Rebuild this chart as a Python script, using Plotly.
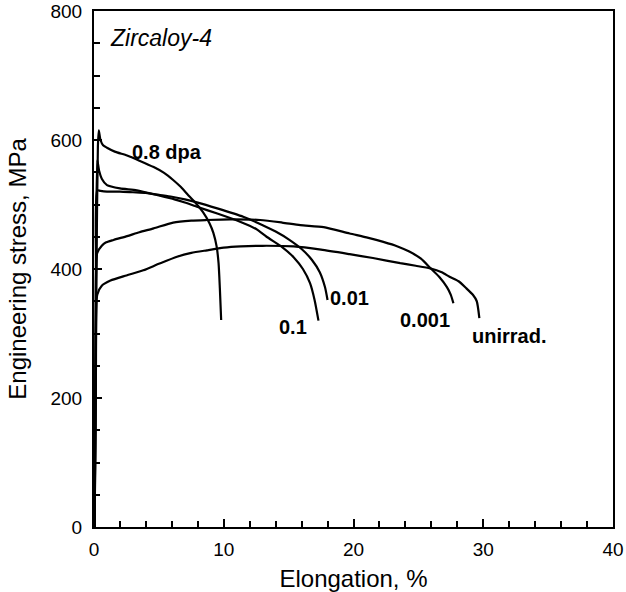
import plotly.graph_objects as go

# Elongation (%) and engineering stress (MPa)
x_08 = [0.05, 0.2, 0.3, 0.37, 0.5, 0.7, 1.0, 1.6, 2.55, 3.5, 4.6, 5.4, 6.1, 6.7, 7.2, 7.8, 8.4, 8.9, 9.2, 9.45, 9.6, 9.7, 9.8]
y_08 = [0, 420, 590, 615, 600, 592, 588, 582, 576, 568, 558, 549, 538, 527, 516, 503, 488, 471, 456, 435, 409, 370, 321]

x_01 = [0.05, 0.15, 0.25, 0.4, 0.6, 1.0, 2.0, 3.3, 5.0, 6.2, 7.0, 8.0, 9.5, 11.3, 12.5, 13.3, 14.5, 15.4, 16.1, 16.65, 17.0, 17.3]
y_01 = [0, 380, 569, 552, 540, 530, 525, 522, 514, 508, 503, 496, 486, 473, 462, 450, 434, 418, 400, 378, 352, 320]

x_001 = [0.05, 0.15, 0.25, 0.5, 1.0, 2.0, 3.0, 4.0, 5.0, 6.0, 7.0, 8.0, 9.5, 11.5, 13.0, 14.0, 15.0, 16.0, 16.8, 17.4, 17.8, 18.0]
y_001 = [0, 400, 522, 521, 520, 520, 519, 518, 515, 512, 508, 503, 494, 481, 468, 458, 446, 431, 414, 395, 372, 352]

x_0001 = [0.05, 0.15, 0.25, 0.6, 0.9, 1.5, 2.55, 3.5, 4.6, 6.1, 7.5, 8.7, 10.5, 12.8, 14.5, 15.9, 17.7, 19.7, 21.0, 22.3, 23.4, 24.3, 25.2, 25.9, 26.6, 27.2, 27.5, 27.7]
y_0001 = [0, 330, 425, 436, 441, 445, 451, 457, 463, 472, 475, 476, 477, 476, 472, 468, 465, 455, 449, 442, 435, 427, 416, 402, 388, 372, 360, 347]

x_un = [0.05, 0.15, 0.25, 0.6, 1.27, 2.5, 3.8, 5.0, 6.4, 7.5, 8.7, 10.0, 11.3, 13.0, 15.4, 17.5, 19.7, 21.5, 23.6, 24.8, 25.9, 26.8, 27.4, 28.1, 28.7, 29.2, 29.5, 29.7]
y_un = [0, 250, 360, 374, 382, 390, 398, 408, 419, 425, 429, 433, 435, 436, 435, 430, 423, 417, 409, 405, 401, 395, 388, 381, 370, 360, 350, 324]

series_x = [x_08, x_01, x_001, x_0001, x_un]
series_y = [y_08, y_01, y_001, y_0001, y_un]

label_text = ["0.8 dpa", "0.1", "0.01", "0.001", "unirrad."]
label_x = [5.6, 15.3, 19.7, 25.5, 32.0]
label_y = [581, 310, 355, 321, 296]

x_ticks = [0, 10, 20, 30, 40]
y_ticks = [0, 200, 400, 600, 800]

font_family = "Liberation Sans, Arial, sans-serif"

fig = go.Figure()
for xs, ys in zip(series_x, series_y):
    fig.add_trace(go.Scatter(x=xs, y=ys, mode="lines",
                             line=dict(color="black", width=2.2, shape="spline", smoothing=0.6),
                             showlegend=False, hoverinfo="skip"))

for t, lx, ly in zip(label_text, label_x, label_y):
    fig.add_annotation(x=lx, y=ly, text="<b>" + t + "</b>", showarrow=False,
                       font=dict(family=font_family, size=20, color="black"))

fig.add_annotation(x=1.1, y=758, text="<i>Zircaloy-4</i>", showarrow=False, xanchor="left",
                   font=dict(family=font_family, size=23, color="black"))

fig.update_layout(
    width=626, height=592,
    margin=dict(l=94, r=13, t=11, b=65),
    paper_bgcolor="white", plot_bgcolor="white",
    font=dict(family=font_family, color="black", size=19),
    showlegend=False,
)
fig.update_xaxes(range=[0, 40], tickvals=x_ticks, ticks="inside", ticklen=8, tickwidth=1.5,
                 tickcolor="black", showline=True, linecolor="black", linewidth=2, mirror=True,
                 showgrid=False, zeroline=False, automargin=False, ticklabelstandoff=4,
                 ticklabeloverflow="allow",
                 minor=dict(dtick=2, ticks="inside", ticklen=6, tickwidth=1.5, tickcolor="black", showgrid=False),
                 title=dict(text="Elongation, %", font=dict(size=24), standoff=13),
                 tickfont=dict(size=19))
fig.update_yaxes(range=[0, 800], tickvals=y_ticks, ticks="inside", ticklen=8, tickwidth=1.5,
                 tickcolor="black", showline=True, linecolor="black", linewidth=2, mirror=True,
                 showgrid=False, zeroline=False, automargin=False, ticklabelstandoff=6,
                 ticklabeloverflow="allow",
                 minor=dict(dtick=50, ticks="inside", ticklen=6, tickwidth=1.5, tickcolor="black", showgrid=False),
                 title=dict(text="Engineering stress, MPa", font=dict(size=24), standoff=17),
                 tickfont=dict(size=19))

# remove the browser's default 8px page margin so the figure fills the window
fig.write_html("out.html", config={"displayModeBar": False},
               post_script="document.body.style.margin='0';")
